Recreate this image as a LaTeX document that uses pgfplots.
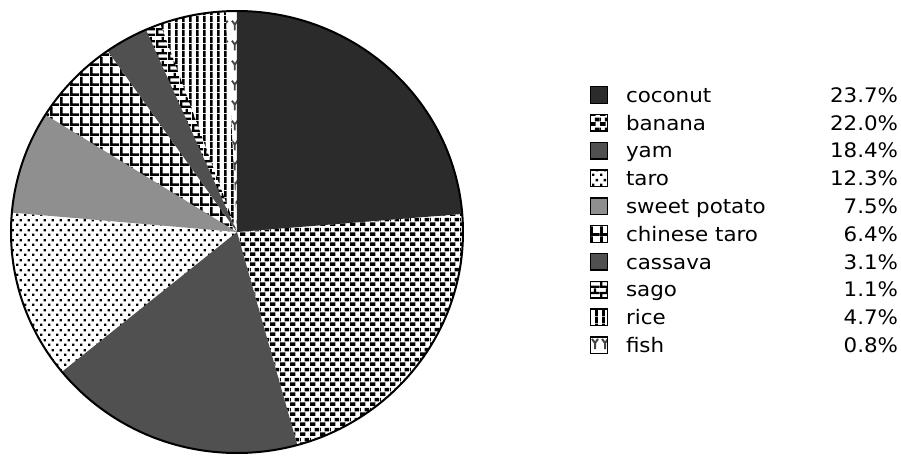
\documentclass[border=0pt]{standalone}
\usepackage{fontspec}
\setmainfont{DejaVu Sans}[FakeStretch=1.07]
\usepackage{pgfplots}
\pgfplotsset{compat=1.18}
\usepackage{pgfplotstable}
\usetikzlibrary{patterns}

\definecolor{cCoco}{HTML}{2B2B2B}
\definecolor{cYam}{HTML}{505050}
\definecolor{cSweet}{HTML}{8F8F8F}
\definecolor{cCass}{HTML}{505050}
\definecolor{cFish}{HTML}{444444}

\pgfdeclarepatternformonly{banana}{\pgfqpoint{0pt}{0pt}}{\pgfqpoint{7.5pt}{7.5pt}}{\pgfqpoint{7.5pt}{7.5pt}}{%
  \pgfpathrectangle{\pgfqpoint{0pt}{0pt}}{\pgfqpoint{4.5pt}{3pt}}%
  \pgfpathrectangle{\pgfqpoint{3.75pt}{3.75pt}}{\pgfqpoint{3.75pt}{3pt}}%
  \pgfpathrectangle{\pgfqpoint{0pt}{3.75pt}}{\pgfqpoint{0.75pt}{3pt}}%
  \pgfusepath{fill}}
\pgfdeclarepatternformonly{tarodots}{\pgfqpoint{0pt}{0pt}}{\pgfqpoint{6pt}{7.5pt}}{\pgfqpoint{6pt}{7.5pt}}{%
  \pgfpathrectangle{\pgfqpoint{0pt}{0pt}}{\pgfqpoint{1.9pt}{1.9pt}}%
  \pgfpathrectangle{\pgfqpoint{3pt}{3.75pt}}{\pgfqpoint{1.9pt}{1.9pt}}%
  \pgfusepath{fill}}
\pgfdeclarepatternformonly{cgrid}{\pgfqpoint{0pt}{0pt}}{\pgfqpoint{7.5pt}{7.5pt}}{\pgfqpoint{7.5pt}{7.5pt}}{%
  \pgfpathrectangle{\pgfqpoint{0pt}{0pt}}{\pgfqpoint{7.5pt}{2.25pt}}%
  \pgfpathrectangle{\pgfqpoint{0pt}{0pt}}{\pgfqpoint{2.25pt}{7.5pt}}%
  \pgfusepath{fill}}
\pgfdeclarepatternformonly{brick}{\pgfqpoint{0pt}{0pt}}{\pgfqpoint{9pt}{9pt}}{\pgfqpoint{9pt}{9pt}}{%
  \pgfpathrectangle{\pgfqpoint{0pt}{0pt}}{\pgfqpoint{9pt}{1.9pt}}%
  \pgfpathrectangle{\pgfqpoint{0pt}{4.5pt}}{\pgfqpoint{9pt}{1.9pt}}%
  \pgfpathrectangle{\pgfqpoint{0pt}{0pt}}{\pgfqpoint{1.9pt}{4.5pt}}%
  \pgfpathrectangle{\pgfqpoint{4.5pt}{4.5pt}}{\pgfqpoint{1.9pt}{4.5pt}}%
  \pgfusepath{fill}}
\pgfdeclarepatternformonly{vstripes}{\pgfqpoint{0pt}{0pt}}{\pgfqpoint{5.25pt}{5.25pt}}{\pgfqpoint{5.25pt}{5.25pt}}{%
  \pgfpathrectangle{\pgfqpoint{0pt}{0pt}}{\pgfqpoint{2.3pt}{5.25pt}}%
  \pgfusepath{fill}}
\pgfdeclarepatternformonly{fishy}{\pgfqpoint{0pt}{0pt}}{\pgfqpoint{7.5pt}{15pt}}{\pgfqpoint{7.5pt}{15pt}}{%
  \pgfsetlinewidth{1.5pt}%
  \pgfpathmoveto{\pgfqpoint{1.5pt}{12pt}}\pgfpathlineto{\pgfqpoint{3.75pt}{9pt}}%
  \pgfpathlineto{\pgfqpoint{6pt}{12pt}}%
  \pgfpathmoveto{\pgfqpoint{3.75pt}{9pt}}\pgfpathlineto{\pgfqpoint{3.75pt}{4.5pt}}%
  \pgfusepath{stroke}}

\tikzset{
  s0/.style={fill=cCoco},
  s1/.style={pattern=banana, pattern color=black},
  s2/.style={fill=cYam},
  s3/.style={pattern=tarodots, pattern color=black},
  s4/.style={fill=cSweet},
  s5/.style={pattern=cgrid, pattern color=black},
  s6/.style={fill=cCass},
  s7/.style={pattern=brick, pattern color=black},
  s8/.style={pattern=vstripes, pattern color=black},
  s9/.style={pattern=fishy, pattern color=cFish},
}

\pgfplotstableread[col sep=comma]{
label,value
coconut,23.7
banana,22.0
yam,18.4
taro,12.3
sweet potato,7.5
chinese taro,6.4
cassava,3.1
sago,1.1
rice,4.7
fish,0.8
}\piedata

\begin{document}
\begin{tikzpicture}
\path[use as bounding box] (0,0) rectangle (675.75pt,341.25pt);
\begin{axis}[
  at={(8.25pt,1.5pt)}, anchor=south west,
  scale only axis, width=339pt, height=331.5pt,
  xmin=-1, xmax=1, ymin=-1, ymax=1,
  hide axis, clip=false,
  legend cell align=left,
  legend image code/.code={\draw[#1,draw=black,line width=1.1pt] (0.55pt,-6.2pt) rectangle (12.95pt,6.2pt);},
  legend style={at={(rel axis cs:1.281,0.8303)}, anchor=north west,
    draw=none, fill=none, inner sep=0pt, outer sep=0pt,
    column sep=13.5pt, row sep=7.35pt,
    font=\fontsize{15}{18}\selectfont,
    nodes={inner sep=0pt, text height=11pt, text depth=0pt}},
]
\pgfmathsetmacro\cum{0}
\pgfplotsforeachungrouped \i in {0,...,9}{%
  \pgfplotstablegetelem{\i}{value}\of\piedata
  \let\val\pgfplotsretval
  \pgfplotstablegetelem{\i}{label}\of\piedata
  \let\lab\pgfplotsretval
  \pgfmathsetmacro\a{90-3.6*\cum}%
  \pgfmathsetmacro\cum{\cum+\val}%
  \pgfmathsetmacro\b{90-3.6*\cum}%
  \edef\temp{%
    \noexpand\fill[s\i] (axis cs:0,0) -- (axis cs:{cos(\a)},{sin(\a)}) arc[start angle=\a, end angle=\b, x radius=169.5pt, y radius=165.75pt] -- cycle;%
    \noexpand\addlegendimage{s\i}%
    \noexpand\addlegendentry{\noexpand\makebox[204pt]{\lab\noexpand\hfill\val\noexpand\%}}%
  }%
  \temp
}
\draw[line width=1.5pt] (axis cs:0,0) ellipse[x radius=169.5pt, y radius=165.75pt];
\end{axis}
\end{tikzpicture}
\end{document}
